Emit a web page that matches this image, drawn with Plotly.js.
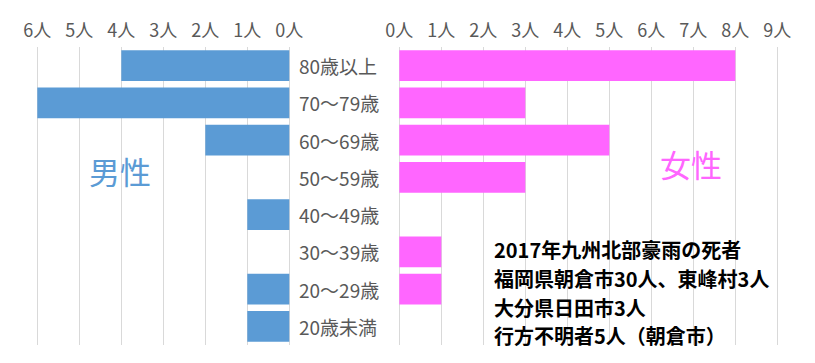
<!DOCTYPE html>
<html><head><meta charset="utf-8">
<script src="https://cdn.plot.ly/plotly-3.0.1.min.js"></script>
<style>html,body{margin:0;padding:0;background:#fff}#c{width:815px;height:363px}</style>
</head><body><div id="c"></div>
<script>
const categories = ['80歳以上','70〜79歳','60〜69歳','50〜59歳','40〜49歳','30〜39歳','20〜29歳','20歳未満'];
const male = [4, 6, 2, 0, 1, 0, 1, 1];
const female = [8, 3, 5, 3, 0, 1, 1, 0];
const maleTicks = [0,1,2,3,4,5,6];
const femaleTicks = [0,1,2,3,4,5,6,7,8,9];
const unit = '人';
const noteLines = ['2017年九州北部豪雨の死者','福岡県朝倉市30人、東峰村3人','大分県日田市3人','行方不明者5人（朝倉市）'];
const maleLabel = '男性', femaleLabel = '女性';

const FONT = '"Noto Sans CJK JP", "Noto Sans", sans-serif';
const W = 815, H = 363, plotTop = 47, plotBottom = 345;
const PX = 42, PAD = 0.04;           // px per person, small range padding so edge gridlines show
const py = v => (plotBottom - v) / (plotBottom - plotTop);

const traces = [
  {type:'bar', orientation:'h', y:categories, x:male, xaxis:'x', yaxis:'y',
   marker:{color:'#5B9BD5'}, hoverinfo:'x+y'},
  {type:'bar', orientation:'h', y:categories, x:female, xaxis:'x2', yaxis:'y',
   marker:{color:'#FF66FF'}, hoverinfo:'x+y'}
];

function xAxis(x0px, x1px, range, ticks) {
  const p = PAD * PX;
  return {
    type:'linear', side:'top', domain:[(x0px - p)/W, (x1px + p)/W], range:range, anchor:'y',
    showgrid:true, gridcolor:'#d9d9d9', gridwidth:1, zeroline:false,
    showline:false, ticks:'', tickmode:'array', tickvals:ticks,
    ticktext:ticks.map(v => v + unit), ticklabelstandoff:5,
    tickfont:{family:FONT, size:18, color:'#595959'}
  };
}

const annotations = [];
categories.forEach(c => annotations.push({
  xref:'paper', yref:'y', x:297/W, y:c, xanchor:'left', yanchor:'middle',
  text:c, showarrow:false, font:{family:FONT, size:19, color:'#595959'}
}));
const noteY = [249, 278, 307, 335];
noteLines.forEach((t,i) => annotations.push({
  xref:'paper', yref:'paper', x:493/W, y:py(noteY[i]), xanchor:'left', yanchor:'middle',
  text:'<b>'+t+'</b>', showarrow:false, borderpad:0, font:{family:FONT, size:20, color:'#000'}
}));
annotations.push({xref:'paper', yref:'paper', x:120/W, y:py(170), xanchor:'center', yanchor:'middle',
  text:maleLabel, showarrow:false, font:{family:FONT, size:31, color:'#5B9BD5'}});
annotations.push({xref:'paper', yref:'paper', x:691/W, y:py(163), xanchor:'center', yanchor:'middle',
  text:femaleLabel, showarrow:false, font:{family:FONT, size:31, color:'#FF66FF'}});

const layout = {
  width:W, height:H, margin:{l:0, r:0, t:plotTop, b:H-plotBottom},
  paper_bgcolor:'#fff', plot_bgcolor:'#fff',
  showlegend:false, bargap:0.17,
  xaxis: xAxis(37.3, 289.3, [6 + PAD, -PAD], maleTicks),
  xaxis2: xAxis(399.3, 777.3, [-PAD, 9 + PAD], femaleTicks),
  yaxis: {autorange:'reversed', showticklabels:false, showgrid:false, zeroline:false, ticks:''},
  annotations: annotations
};

Plotly.newPlot('c', traces, layout, {displayModeBar:false});
</script></body></html>
